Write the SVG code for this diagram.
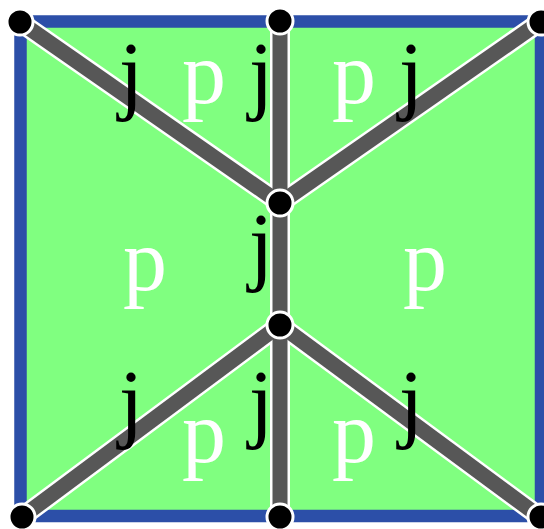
<svg xmlns="http://www.w3.org/2000/svg" width="544" height="529" viewBox="0 0 544 529">
<style>
.edge-w{stroke:#ffffff;stroke-width:20;fill:none;stroke-linecap:butt}
.edge-g{stroke:#575757;stroke-width:15;fill:none;stroke-linecap:butt}
.node{fill:#000000;stroke:#ffffff;stroke-width:3}
.j{font-family:"Liberation Serif","Times New Roman",serif;font-size:88px;fill:#000000;text-anchor:middle}
.p{font-family:"Liberation Serif","Times New Roman",serif;font-size:88px;fill:#ffffff;text-anchor:middle}
</style>
<rect width="544" height="529" fill="#ffffff"/>
<g id="region">
<rect x="20.5" y="21.5" width="520.5" height="494.5" fill="#80ff80" stroke="#2c4fa8" stroke-width="12.5"/>
</g>
<g id="connectors">
<g class="edge-w">
<line x1="20" y1="22" x2="280" y2="203"/>
<line x1="540" y1="22" x2="280" y2="203"/>
<line x1="280" y1="325" x2="22" y2="517"/>
<line x1="280" y1="325" x2="540" y2="517"/>
<line x1="280" y1="21" x2="280" y2="517"/>
</g>
<g class="edge-g">
<line x1="20" y1="22" x2="280" y2="203"/>
<line x1="540" y1="22" x2="280" y2="203"/>
<line x1="280" y1="325" x2="22" y2="517"/>
<line x1="280" y1="325" x2="540" y2="517"/>
<line x1="280" y1="21" x2="280" y2="517"/>
</g>
</g>
<g id="n-top-left"><circle class="node" cx="20" cy="22" r="13"/></g>
<g id="n-top-mid"><circle class="node" cx="280" cy="21" r="13"/></g>
<g id="n-top-right"><circle class="node" cx="541" cy="22" r="13"/></g>
<g id="n-center-upper"><circle class="node" cx="280" cy="203" r="13"/></g>
<g id="n-center-lower"><circle class="node" cx="280" cy="325" r="13"/></g>
<g id="n-bottom-left"><circle class="node" cx="22" cy="517" r="13"/></g>
<g id="n-bottom-mid"><circle class="node" cx="280" cy="517" r="13"/></g>
<g id="n-bottom-right"><circle class="node" cx="541" cy="517" r="13"/></g>
<g id="labels">
<text class="j" x="131" y="103">j</text>
<text class="p" x="204" y="103">p</text>
<text class="j" x="261" y="103">j</text>
<text class="p" x="354" y="103">p</text>
<text class="j" x="411" y="103">j</text>
<text class="p" x="145" y="290">p</text>
<text class="j" x="261" y="274">j</text>
<text class="p" x="425" y="290">p</text>
<text class="j" x="131" y="431">j</text>
<text class="p" x="204" y="462">p</text>
<text class="j" x="261" y="431">j</text>
<text class="p" x="354" y="462">p</text>
<text class="j" x="411" y="431">j</text>
</g>
</svg>
